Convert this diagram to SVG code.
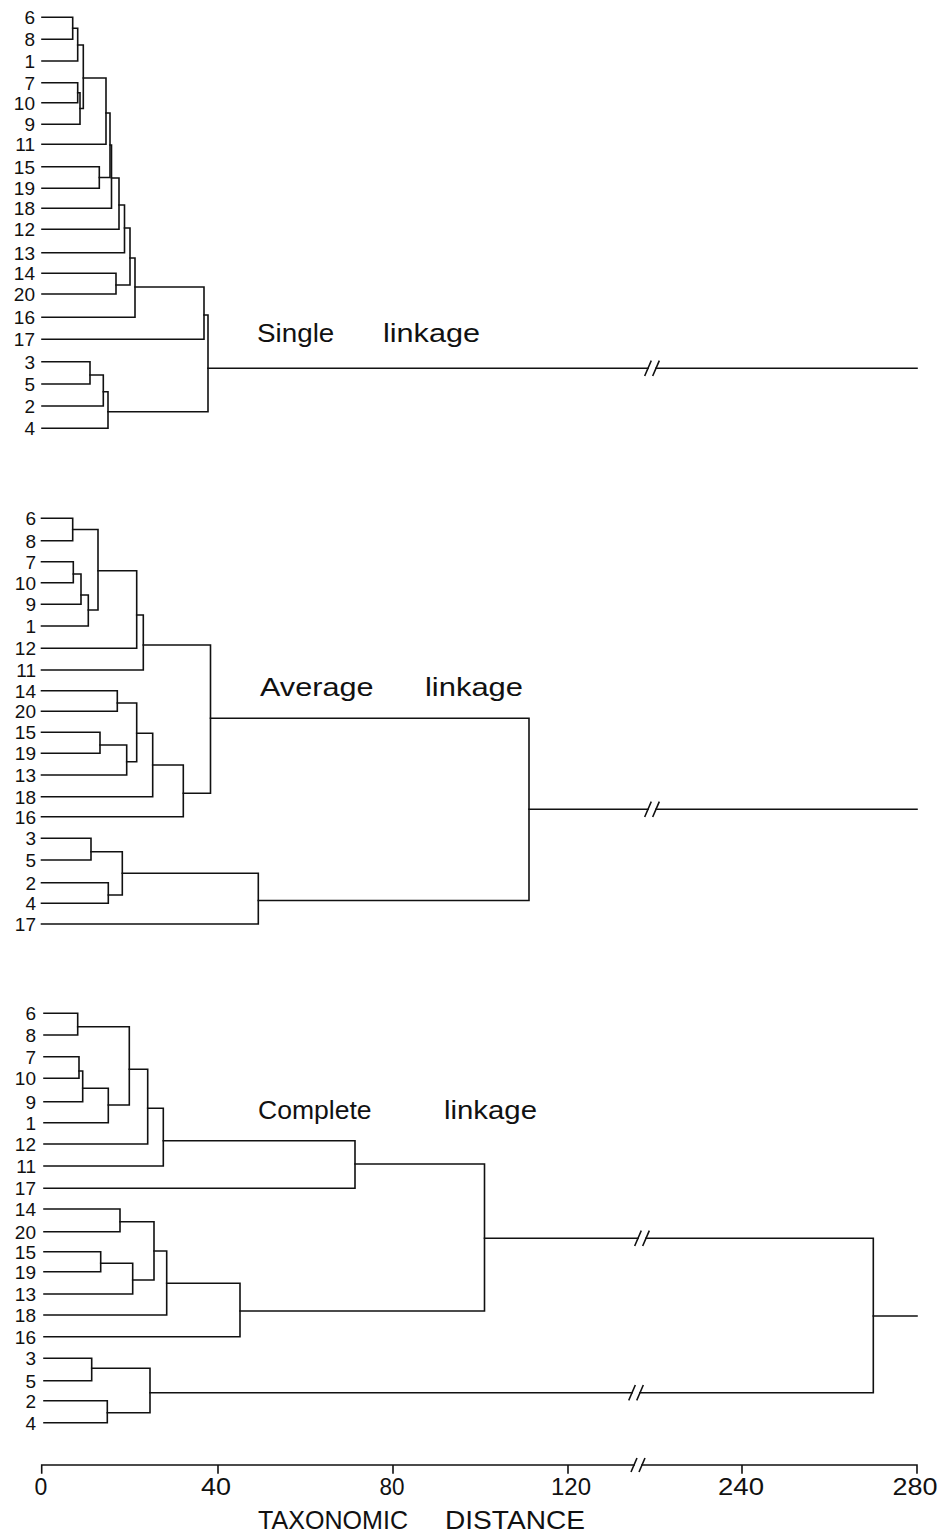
<svg xmlns="http://www.w3.org/2000/svg" width="949" height="1536" viewBox="0 0 949 1536">
<style>
.ln{fill:none;stroke:#111;stroke-width:1.6;stroke-linejoin:miter;stroke-linecap:square}
.lf{font-family:"Liberation Sans",Arial,sans-serif;font-size:19px;fill:#111;text-anchor:end}
.tt{font-family:"Liberation Sans",Arial,sans-serif;font-size:25px;fill:#111}
.ax{font-family:"Liberation Sans",Arial,sans-serif;font-size:23px;fill:#111;text-anchor:middle}
</style>
<defs>
<g id="brk"><path d="M-7,7 L-1,-7 M1,7 L7,-7" fill="none" stroke="#111" stroke-width="1.6"/></g>
</defs>
<rect width="949" height="1536" fill="#fff"/>

<!-- ============ SINGLE LINKAGE ============ -->
<g id="single-leaves">
<g id="s-6"><text class="lf" x="35" y="24.3">6</text></g>
<g id="s-8"><text class="lf" x="35" y="46.3">8</text></g>
<g id="s-1"><text class="lf" x="35" y="68">1</text></g>
<g id="s-7"><text class="lf" x="35" y="89.7">7</text></g>
<g id="s-10"><text class="lf" x="35" y="109.7">10</text></g>
<g id="s-9"><text class="lf" x="35" y="131.3">9</text></g>
<g id="s-11"><text class="lf" x="35" y="151.3">11</text></g>
<g id="s-15"><text class="lf" x="35" y="173.7">15</text></g>
<g id="s-19"><text class="lf" x="35" y="195.3">19</text></g>
<g id="s-18"><text class="lf" x="35" y="215.3">18</text></g>
<g id="s-12"><text class="lf" x="35" y="236.3">12</text></g>
<g id="s-13"><text class="lf" x="35" y="259.7">13</text></g>
<g id="s-14"><text class="lf" x="35" y="280.3">14</text></g>
<g id="s-20"><text class="lf" x="35" y="301">20</text></g>
<g id="s-16"><text class="lf" x="35" y="324.3">16</text></g>
<g id="s-17"><text class="lf" x="35" y="346.3">17</text></g>
<g id="s-3"><text class="lf" x="35" y="368.7">3</text></g>
<g id="s-5"><text class="lf" x="35" y="391">5</text></g>
<g id="s-2"><text class="lf" x="35" y="413">2</text></g>
<g id="s-4"><text class="lf" x="35" y="435.3">4</text></g>
</g>
<g id="single-connectors" class="ln">
<path d="M42,17.3 H72.7 V39.3 H42"/>
<path d="M72.7,28.3 H77.7 V61 H42"/>
<path d="M42,82.7 H77.7 V102.7 H42"/>
<path d="M77.7,92.7 H80 V124.3 H42"/>
<path d="M77.7,45 H83.3 V108.5 H80"/>
<path d="M83.3,78 H106 V144.3 H42"/>
<path d="M42,166.7 H99.3 V188.3 H42"/>
<path d="M106,113 H110 V177.5 H99.3"/>
<path d="M110,145 H111.5 V208.3 H42"/>
<path d="M111.5,178 H119 V229.3 H42"/>
<path d="M119,205 H124.5 V252.7 H42"/>
<path d="M42,273.3 H116 V294 H42"/>
<path d="M124.5,228 H130 V285 H116"/>
<path d="M130,258 H135 V317.3 H42"/>
<path d="M135,287 H204 V339.3 H42"/>
<path d="M42,361.7 H90 V384 H42"/>
<path d="M90,375 H103.3 V406 H42"/>
<path d="M103.3,391.7 H108 V428.3 H42"/>
<path d="M204,315 H208 V411.7 H108"/>
<path d="M208,368.3 H648 M656,368.3 H917"/>
<use href="#brk" x="652" y="368.3"/>
</g>
<g id="single-title"><text class="tt" y="342"><tspan x="257" textLength="85" lengthAdjust="spacingAndGlyphs">Single </tspan><tspan x="383" textLength="97" lengthAdjust="spacingAndGlyphs">linkage</tspan></text></g>

<!-- ============ AVERAGE LINKAGE ============ -->
<g id="average-leaves">
<g id="a-6"><text class="lf" x="36" y="525.3">6</text></g>
<g id="a-8"><text class="lf" x="36" y="547.7">8</text></g>
<g id="a-7"><text class="lf" x="36" y="568.7">7</text></g>
<g id="a-10"><text class="lf" x="36" y="589.7">10</text></g>
<g id="a-9"><text class="lf" x="36" y="611.3">9</text></g>
<g id="a-1"><text class="lf" x="36" y="633">1</text></g>
<g id="a-12"><text class="lf" x="36" y="655.3">12</text></g>
<g id="a-11"><text class="lf" x="36" y="677">11</text></g>
<g id="a-14"><text class="lf" x="36" y="697.7">14</text></g>
<g id="a-20"><text class="lf" x="36" y="718.2">20</text></g>
<g id="a-15"><text class="lf" x="36" y="739.3">15</text></g>
<g id="a-19"><text class="lf" x="36" y="760.3">19</text></g>
<g id="a-13"><text class="lf" x="36" y="782">13</text></g>
<g id="a-18"><text class="lf" x="36" y="803.7">18</text></g>
<g id="a-16"><text class="lf" x="36" y="823.7">16</text></g>
<g id="a-3"><text class="lf" x="36" y="845.3">3</text></g>
<g id="a-5"><text class="lf" x="36" y="867">5</text></g>
<g id="a-2"><text class="lf" x="36" y="889.7">2</text></g>
<g id="a-4"><text class="lf" x="36" y="910.3">4</text></g>
<g id="a-17"><text class="lf" x="36" y="931">17</text></g>
</g>
<g id="average-connectors" class="ln">
<path d="M41.5,518.3 H72.7 V540.7 H41.5"/>
<path d="M41.5,561.7 H73.3 V582.7 H41.5"/>
<path d="M73.3,574 H81 V604.3 H41.5"/>
<path d="M81,595 H88.3 V626 H41.5"/>
<path d="M72.7,529.5 H98 V610 H88.3"/>
<path d="M98,570.7 H136.7 V648.3 H41.5"/>
<path d="M136.7,615 H143.3 V670 H41.5"/>
<path d="M41.5,690.7 H117.3 V711.2 H41.5"/>
<path d="M41.5,732.3 H100 V753.3 H41.5"/>
<path d="M100,745 H126.7 V775 H41.5"/>
<path d="M117.3,703 H136.7 V761.7 H126.7"/>
<path d="M136.7,733.3 H152.7 V796.7 H41.5"/>
<path d="M152.7,765 H183.3 V816.7 H41.5"/>
<path d="M143.3,645 H210.5 V793.3 H183.3"/>
<path d="M41.5,838.3 H91 V860 H41.5"/>
<path d="M41.5,882.7 H108.3 V903.3 H41.5"/>
<path d="M91,851.7 H122.3 V895 H108.3"/>
<path d="M122.3,873.3 H258.3 V924 H41.5"/>
<path d="M210.5,718.3 H529 V900.5 H258.3"/>
<path d="M529,809.3 H648 M656,809.3 H917"/>
<use href="#brk" x="652" y="809.3"/>
</g>
<g id="average-title"><text class="tt" y="696"><tspan x="260" textLength="122" lengthAdjust="spacingAndGlyphs">Average </tspan><tspan x="425" textLength="98" lengthAdjust="spacingAndGlyphs">linkage</tspan></text></g>

<!-- ============ COMPLETE LINKAGE ============ -->
<g id="complete-leaves">
<g id="c-6"><text class="lf" x="36" y="1020.3">6</text></g>
<g id="c-8"><text class="lf" x="36" y="1042">8</text></g>
<g id="c-7"><text class="lf" x="36" y="1063.7">7</text></g>
<g id="c-10"><text class="lf" x="36" y="1085.3">10</text></g>
<g id="c-9"><text class="lf" x="36" y="1108.7">9</text></g>
<g id="c-1"><text class="lf" x="36" y="1129.7">1</text></g>
<g id="c-12"><text class="lf" x="36" y="1151">12</text></g>
<g id="c-11"><text class="lf" x="36" y="1173">11</text></g>
<g id="c-17"><text class="lf" x="36" y="1195.3">17</text></g>
<g id="c-14"><text class="lf" x="36" y="1216">14</text></g>
<g id="c-20"><text class="lf" x="36" y="1238.7">20</text></g>
<g id="c-15"><text class="lf" x="36" y="1258.7">15</text></g>
<g id="c-19"><text class="lf" x="36" y="1278.7">19</text></g>
<g id="c-13"><text class="lf" x="36" y="1301">13</text></g>
<g id="c-18"><text class="lf" x="36" y="1322">18</text></g>
<g id="c-16"><text class="lf" x="36" y="1343.7">16</text></g>
<g id="c-3"><text class="lf" x="36" y="1365.3">3</text></g>
<g id="c-5"><text class="lf" x="36" y="1387.7">5</text></g>
<g id="c-2"><text class="lf" x="36" y="1407.7">2</text></g>
<g id="c-4"><text class="lf" x="36" y="1429.7">4</text></g>
</g>
<g id="complete-connectors" class="ln">
<path d="M44,1013.3 H77.7 V1035 H44"/>
<path d="M44,1056.7 H79 V1078.3 H44"/>
<path d="M79,1071 H82.7 V1101.7 H44"/>
<path d="M82.7,1088.3 H108.3 V1122.7 H44"/>
<path d="M77.7,1026.7 H129.3 V1105 H108.3"/>
<path d="M129.3,1069.3 H147.7 V1144 H44"/>
<path d="M147.7,1108.3 H163.3 V1166 H44"/>
<path d="M163.3,1140.7 H355 V1188.3 H44"/>
<path d="M44,1209 H120 V1231.7 H44"/>
<path d="M44,1251.7 H100.7 V1271.7 H44"/>
<path d="M100.7,1263.3 H132.7 V1294 H44"/>
<path d="M120,1221.7 H154 V1280 H132.7"/>
<path d="M154,1251 H166.7 V1315 H44"/>
<path d="M166.7,1283.3 H240 V1336.7 H44"/>
<path d="M355,1164 H484.5 V1311 H240"/>
<path d="M44,1358.3 H91.7 V1380.7 H44"/>
<path d="M44,1400.7 H107.3 V1422.7 H44"/>
<path d="M91.7,1368.3 H150 V1412.7 H107.3"/>
<path d="M484.5,1238.3 H638 M646,1238.3 H873.3 V1392.7 H640 M632,1392.7 H150"/>
<path d="M873.3,1316 H917"/>
<use href="#brk" x="642" y="1238.3"/>
<use href="#brk" x="636" y="1392.7"/>
</g>
<g id="complete-title"><text class="tt" y="1119"><tspan x="258" textLength="121" lengthAdjust="spacingAndGlyphs">Complete </tspan><tspan x="444" textLength="93" lengthAdjust="spacingAndGlyphs">linkage</tspan></text></g>

<!-- ============ AXIS ============ -->
<g id="axis">
<path class="ln" d="M41.7,1473 V1465 H634 M642,1465 H917 V1473 M218,1465 V1473 M393,1465 V1473 M568,1465 V1473 M742,1465 V1473"/>
<use href="#brk" x="638" y="1465"/>
<text class="ax" x="41" y="1495">0</text>
<text class="ax" x="216" y="1495" textLength="30" lengthAdjust="spacingAndGlyphs">40</text>
<text class="ax" x="392" y="1495" textLength="25" lengthAdjust="spacingAndGlyphs">80</text>
<text class="ax" x="571" y="1495" textLength="40" lengthAdjust="spacingAndGlyphs">120</text>
<text class="ax" x="741" y="1495" textLength="46" lengthAdjust="spacingAndGlyphs">240</text>
<text class="ax" x="915" y="1495" textLength="45" lengthAdjust="spacingAndGlyphs">280</text>
<text class="tt" y="1529"><tspan x="258" textLength="157" lengthAdjust="spacingAndGlyphs">TAXONOMIC </tspan><tspan x="445" textLength="140" lengthAdjust="spacingAndGlyphs">DISTANCE</tspan></text>
</g>
</svg>
